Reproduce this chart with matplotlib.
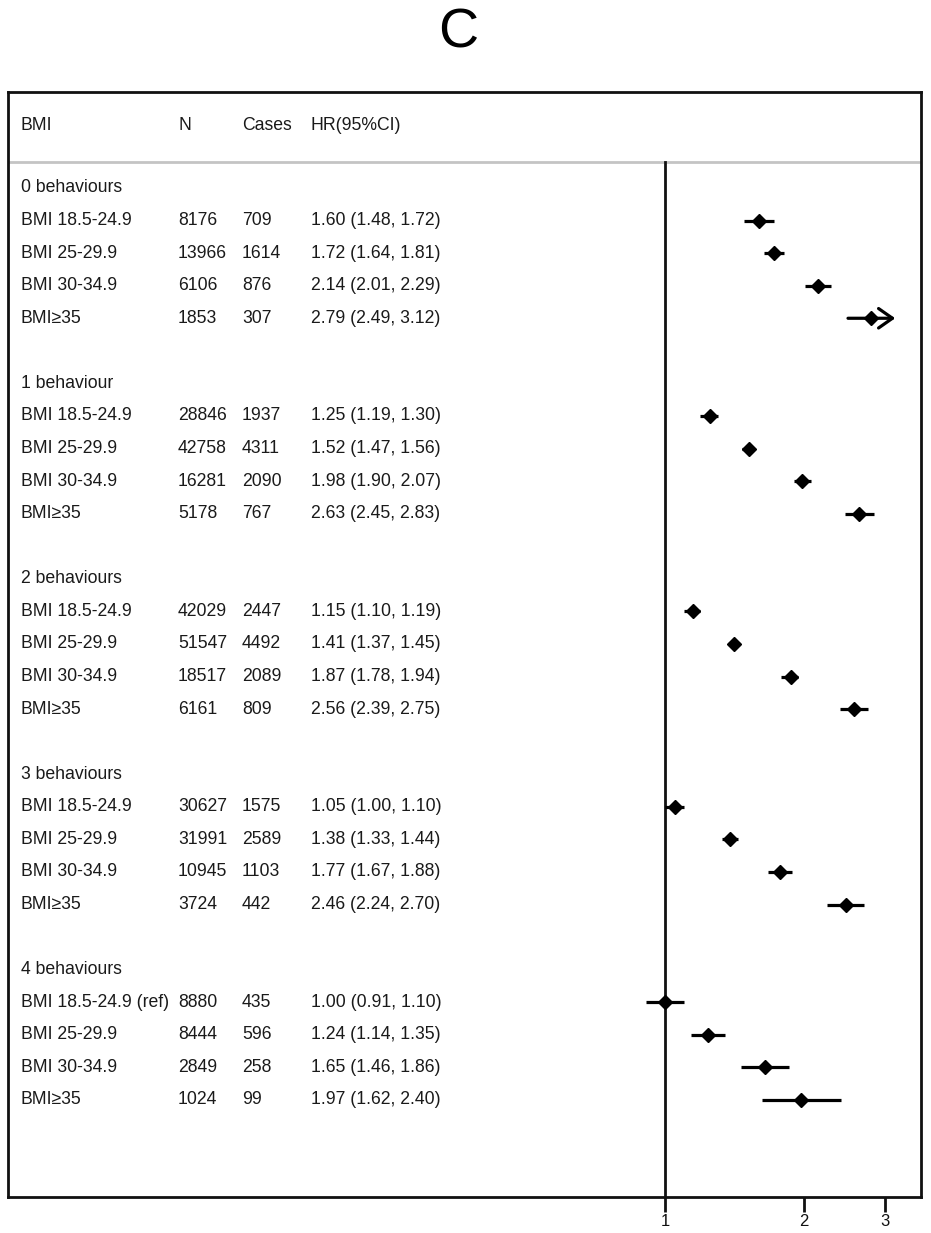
import numpy as np
import matplotlib.pyplot as plt

plt.rcParams['font.family'] = ['Liberation Sans', 'DejaVu Sans']

# table contents
groups = ["0 behaviours", "1 behaviour", "2 behaviours", "3 behaviours", "4 behaviours"]
bmi_labels = ["BMI 18.5-24.9", "BMI 25-29.9", "BMI 30-34.9", "BMI≥35"]
n_vals = [8176, 13966, 6106, 1853,
          28846, 42758, 16281, 5178,
          42029, 51547, 18517, 6161,
          30627, 31991, 10945, 3724,
          8880, 8444, 2849, 1024]
cases = [709, 1614, 876, 307,
         1937, 4311, 2090, 767,
         2447, 4492, 2089, 809,
         1575, 2589, 1103, 442,
         435, 596, 258, 99]
hr = [1.60, 1.72, 2.14, 2.79,
      1.25, 1.52, 1.98, 2.63,
      1.15, 1.41, 1.87, 2.56,
      1.05, 1.38, 1.77, 2.46,
      1.00, 1.24, 1.65, 1.97]
lo = [1.48, 1.64, 2.01, 2.49,
      1.19, 1.47, 1.90, 2.45,
      1.10, 1.37, 1.78, 2.39,
      1.00, 1.33, 1.67, 2.24,
      0.91, 1.14, 1.46, 1.62]
hi = [1.72, 1.81, 2.29, 3.12,
      1.30, 1.56, 2.07, 2.83,
      1.19, 1.45, 1.94, 2.75,
      1.10, 1.44, 1.88, 2.70,
      1.10, 1.35, 1.86, 2.40]
xticks = [1, 2, 3]
x_cap = 3.0

W, H = 931, 1233
fig = plt.figure(figsize=(W / 100, H / 100), dpi=100)
ax = fig.add_axes([8 / W, (H - 1197) / H, 913 / W, (1197 - 92) / H])

ax.set_xscale('log')
ax.set_xlim(0.0378, 3.583)
ax.set_ylim(30.98, -2.947)

for s in ax.spines.values():
    s.set_linewidth(2)
    s.set_color('#111111')

ax.set_xticks(xticks)
ax.set_xticklabels([str(t) for t in xticks])
ax.minorticks_off()
ax.tick_params(axis='x', direction='out', length=11, width=2, labelsize=12, pad=1, colors='#111111')
ax.set_yticks([])

txt_color = '#1a1a1a'
fs = 12.7
tr = ax.get_yaxis_transform()
col_x = [(21 - 8) / 913, (178 - 8) / 913, (242 - 8) / 913, (311 - 8) / 913]

# header
for x, t in zip(col_x, ["BMI", "N", "Cases", "HR(95%CI)"]):
    ax.text(x, -1.93, t, transform=tr, fontsize=fs, va='center', color=txt_color)
ax.axhline(-0.80, color='#c4c4c4', lw=2)

# reference line
ax.plot([1, 1], [-0.80, 30.98], color='#111111', lw=2, clip_on=False, zorder=2)

i = 0
for g, name in enumerate(groups):
    y0 = g * 6
    ax.text(col_x[0], y0, name, transform=tr, fontsize=fs, va='center', color=txt_color)
    for k, lab in enumerate(bmi_labels):
        y = y0 + 1 + k
        if g == len(groups) - 1 and k == 0:
            lab = lab + " (ref)"
        ax.text(col_x[0], y, lab, transform=tr, fontsize=fs, va='center', color=txt_color)
        ax.text(col_x[1], y, str(n_vals[i]), transform=tr, fontsize=fs, va='center', color=txt_color)
        ax.text(col_x[2], y, str(cases[i]), transform=tr, fontsize=fs, va='center', color=txt_color)
        ax.text(col_x[3], y, f"{hr[i]:.2f} ({lo[i]:.2f}, {hi[i]:.2f})", transform=tr,
                fontsize=fs, va='center', color=txt_color)
        if hi[i] > x_cap:
            ax.annotate('', xy=(hi[i] * 1.01, y), xytext=(lo[i], y),
                        arrowprops=dict(arrowstyle='->,head_length=0.5,head_width=0.35', lw=2.3,
                                        color='black', mutation_scale=20,
                                        shrinkA=0, shrinkB=0), zorder=3)
        else:
            ax.plot([lo[i], hi[i]], [y, y], color='black', lw=2.3, solid_capstyle='butt', zorder=3)
        ax.plot(hr[i], y, marker='D', ms=7, color='black', zorder=4)
        i += 1

fig.text(458 / W, 1 - 33 / H, "C", fontsize=40, ha='center', va='center', color='black')

fig.savefig('out.png', dpi=100)
